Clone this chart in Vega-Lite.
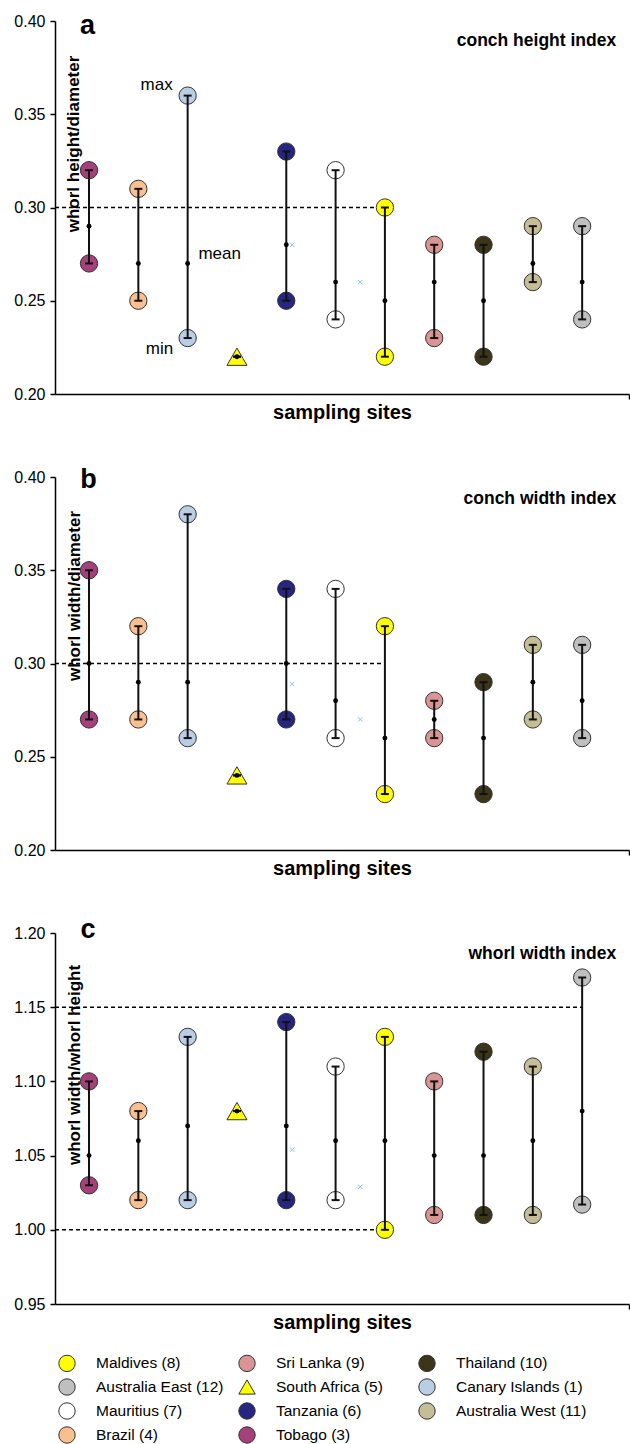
{
  "$schema": "https://vega.github.io/schema/vega-lite/v6.json",
  "padding": {"left": 13, "top": 12, "right": 0, "bottom": 0},
  "spacing": 83,
  "bounds": "flush",
  "config": {
    "view": {"stroke": null},
    "font": "Liberation Sans",
    "axis": {"domainColor": "black", "domainWidth": 1.5, "tickColor": "black", "tickWidth": 1.5, "tickSize": 5, "labelFont": "Liberation Sans", "labelFontSize": 16, "labelColor": "black", "labelPadding": 5, "grid": false, "titleFont": "Liberation Sans", "titleFontWeight": "bold", "titleColor": "black"},
    "legend": {"padding": 0}
  },
  "datasets": {
    "sites": [
      {"p": "a", "site": "Tobago (3)", "idx": 0, "min": 0.27, "mean": 0.29, "max": 0.32},
      {"p": "a", "site": "Brazil (4)", "idx": 1, "min": 0.25, "mean": 0.27, "max": 0.31},
      {"p": "a", "site": "Canary Islands (1)", "idx": 2, "min": 0.23, "mean": 0.27, "max": 0.36},
      {"p": "a", "site": "South Africa (5)", "idx": 3, "min": 0.22, "mean": 0.22, "max": 0.22},
      {"p": "a", "site": "Tanzania (6)", "idx": 4, "min": 0.25, "mean": 0.28, "max": 0.33},
      {"p": "a", "site": "Mauritius (7)", "idx": 5, "min": 0.24, "mean": 0.26, "max": 0.32},
      {"p": "a", "site": "Maldives (8)", "idx": 6, "min": 0.22, "mean": 0.25, "max": 0.30},
      {"p": "a", "site": "Sri Lanka (9)", "idx": 7, "min": 0.23, "mean": 0.26, "max": 0.28},
      {"p": "a", "site": "Thailand (10)", "idx": 8, "min": 0.22, "mean": 0.25, "max": 0.28},
      {"p": "a", "site": "Australia West (11)", "idx": 9, "min": 0.26, "mean": 0.27, "max": 0.29},
      {"p": "a", "site": "Australia East (12)", "idx": 10, "min": 0.24, "mean": 0.26, "max": 0.29},
      {"p": "b", "site": "Tobago (3)", "idx": 0, "min": 0.27, "mean": 0.30, "max": 0.35},
      {"p": "b", "site": "Brazil (4)", "idx": 1, "min": 0.27, "mean": 0.29, "max": 0.32},
      {"p": "b", "site": "Canary Islands (1)", "idx": 2, "min": 0.26, "mean": 0.29, "max": 0.38},
      {"p": "b", "site": "South Africa (5)", "idx": 3, "min": 0.24, "mean": 0.24, "max": 0.24},
      {"p": "b", "site": "Tanzania (6)", "idx": 4, "min": 0.27, "mean": 0.30, "max": 0.34},
      {"p": "b", "site": "Mauritius (7)", "idx": 5, "min": 0.26, "mean": 0.28, "max": 0.34},
      {"p": "b", "site": "Maldives (8)", "idx": 6, "min": 0.23, "mean": 0.26, "max": 0.32},
      {"p": "b", "site": "Sri Lanka (9)", "idx": 7, "min": 0.26, "mean": 0.27, "max": 0.28},
      {"p": "b", "site": "Thailand (10)", "idx": 8, "min": 0.23, "mean": 0.26, "max": 0.29},
      {"p": "b", "site": "Australia West (11)", "idx": 9, "min": 0.27, "mean": 0.29, "max": 0.31},
      {"p": "b", "site": "Australia East (12)", "idx": 10, "min": 0.26, "mean": 0.28, "max": 0.31},
      {"p": "c", "site": "Tobago (3)", "idx": 0, "min": 1.03, "mean": 1.05, "max": 1.10},
      {"p": "c", "site": "Brazil (4)", "idx": 1, "min": 1.02, "mean": 1.06, "max": 1.08},
      {"p": "c", "site": "Canary Islands (1)", "idx": 2, "min": 1.02, "mean": 1.07, "max": 1.13},
      {"p": "c", "site": "South Africa (5)", "idx": 3, "min": 1.08, "mean": 1.08, "max": 1.08},
      {"p": "c", "site": "Tanzania (6)", "idx": 4, "min": 1.02, "mean": 1.07, "max": 1.14},
      {"p": "c", "site": "Mauritius (7)", "idx": 5, "min": 1.02, "mean": 1.06, "max": 1.11},
      {"p": "c", "site": "Maldives (8)", "idx": 6, "min": 1.00, "mean": 1.06, "max": 1.13},
      {"p": "c", "site": "Sri Lanka (9)", "idx": 7, "min": 1.01, "mean": 1.05, "max": 1.10},
      {"p": "c", "site": "Thailand (10)", "idx": 8, "min": 1.01, "mean": 1.05, "max": 1.12},
      {"p": "c", "site": "Australia West (11)", "idx": 9, "min": 1.01, "mean": 1.06, "max": 1.11},
      {"p": "c", "site": "Australia East (12)", "idx": 10, "min": 1.017, "mean": 1.08, "max": 1.17}
    ],
    "refs": [
      {"p": "a", "y": 0.30, "from": -0.69, "to": 6},
      {"p": "b", "y": 0.30, "from": -0.69, "to": 6},
      {"p": "c", "y": 1.15, "from": -0.69, "to": 10},
      {"p": "c", "y": 1.00, "from": -0.69, "to": 6}
    ],
    "xmarks": [
      {"p": "a", "x": 4.12, "y": 0.28},
      {"p": "a", "x": 5.5, "y": 0.26},
      {"p": "b", "x": 4.12, "y": 0.289},
      {"p": "b", "x": 5.5, "y": 0.27},
      {"p": "c", "x": 4.12, "y": 1.054},
      {"p": "c", "x": 5.5, "y": 1.029}
    ],
    "letters": [
      {"p": "a", "x": -0.03, "y": 0.393, "label": "a"},
      {"p": "b", "x": -0.01, "y": 0.394, "label": "b"},
      {"p": "c", "x": -0.02, "y": 1.1966, "label": "c"}
    ],
    "heads": [
      {"p": "a", "x": 10.69, "y": 0.3866, "label": "conch height index"},
      {"p": "b", "x": 10.69, "y": 0.3855, "label": "conch width index"},
      {"p": "c", "x": 10.69, "y": 1.1826, "label": "whorl width index"}
    ],
    "annots": [
      {"x": 1.37, "y": 0.363, "label": "max"},
      {"x": 2.65, "y": 0.2724, "label": "mean"},
      {"x": 1.43, "y": 0.2214, "label": "min"}
    ]
  },
  "vconcat": [
    {
      "width": 574, "height": 373,
      "layer": [
        {"data": {"name": "refs"}, "transform": [{"filter": "datum.p == 'a'"}],
         "mark": {"type": "rule", "strokeDash": [4, 3], "strokeWidth": 1.4, "color": "black"},
         "encoding": {
           "x": {"field": "from", "type": "quantitative", "scale": {"domain": [-0.69, 10.95], "nice": false, "zero": false}, "axis": {"title": "sampling sites", "titleFontSize": 20, "labels": false, "values": [10.95], "tickSize": 5, "titlePadding": 3}},
           "x2": {"field": "to"},
           "y": {"field": "y", "type": "quantitative", "scale": {"domain": [0.2, 0.4], "nice": false, "zero": false}, "axis": {"values": [0.2, 0.25, 0.3, 0.35, 0.4], "format": ".2f", "title": "whorl height/diameter", "titleX": 18.5, "titleY": 122.5, "titleAngle": 270, "titleAlign": "center", "titleBaseline": "middle", "titleFontSize": 17}}}},
        {"data": {"name": "sites"}, "transform": [{"filter": "datum.p == 'a' && datum.site != 'South Africa (5)'"}, {"fold": ["min", "max"], "as": ["stat", "val"]}],
         "mark": {"type": "point", "filled": true, "size": 300, "stroke": "#333333", "strokeWidth": 1, "opacity": 1},
         "encoding": {
           "x": {"field": "idx", "type": "quantitative", "scale": {"domain": [-0.69, 10.95], "nice": false, "zero": false}},
           "y": {"field": "val", "type": "quantitative", "scale": {"domain": [0.2, 0.4], "nice": false, "zero": false}},
           "color": {"field": "site", "type": "nominal",
             "scale": {"domain": ["Maldives (8)", "Australia East (12)", "Mauritius (7)", "Brazil (4)", "Sri Lanka (9)", "South Africa (5)", "Tanzania (6)", "Tobago (3)", "Thailand (10)", "Canary Islands (1)", "Australia West (11)"],
                       "range": ["#FFFF00", "#BFBFBF", "#FFFFFF", "#FABF8F", "#D99594", "#FFFF00", "#262580", "#A5407A", "#3B3519", "#B9CDE5", "#C4BD97"]},
             "legend": {"title": null, "orient": "none", "legendX": 3, "legendY": 1333, "columns": 3, "gridAlign": "all", "symbolSize": 270, "symbolStrokeColor": "#333333", "symbolStrokeWidth": 1, "labelFont": "Liberation Sans", "labelFontSize": 15.5, "labelColor": "black", "labelOffset": 20, "columnPadding": 9, "rowPadding": 2, "labelLimit": 300}},
           "shape": {"field": "site", "type": "nominal",
             "scale": {"domain": ["Maldives (8)", "Australia East (12)", "Mauritius (7)", "Brazil (4)", "Sri Lanka (9)", "South Africa (5)", "Tanzania (6)", "Tobago (3)", "Thailand (10)", "Canary Islands (1)", "Australia West (11)"],
                       "range": ["circle", "circle", "circle", "circle", "circle", "triangle-up", "circle", "circle", "circle", "circle", "circle"]},
             "legend": {"title": null, "orient": "none", "legendX": 3, "legendY": 1333, "columns": 3, "gridAlign": "all", "symbolSize": 270, "symbolStrokeColor": "#333333", "symbolStrokeWidth": 1, "labelFont": "Liberation Sans", "labelFontSize": 15.5, "labelColor": "black", "labelOffset": 20, "columnPadding": 9, "rowPadding": 2, "labelLimit": 300}}}},
        {"data": {"name": "sites"}, "transform": [{"filter": "datum.p == 'a' && datum.site == 'South Africa (5)'"}],
         "mark": {"type": "point", "filled": true, "size": 400, "stroke": "#333333", "strokeWidth": 1, "opacity": 1},
         "encoding": {
           "x": {"field": "idx", "type": "quantitative", "scale": {"domain": [-0.69, 10.95], "nice": false, "zero": false}},
           "y": {"field": "mean", "type": "quantitative", "scale": {"domain": [0.2, 0.4], "nice": false, "zero": false}},
           "color": {"field": "site", "type": "nominal"},
           "shape": {"field": "site", "type": "nominal"}}},
        {"data": {"name": "sites"}, "transform": [{"filter": "datum.p == 'a'"}],
         "mark": {"type": "rule", "strokeWidth": 2, "color": "#111111"},
         "encoding": {
           "x": {"field": "idx", "type": "quantitative", "scale": {"domain": [-0.69, 10.95], "nice": false, "zero": false}},
           "y": {"field": "min", "type": "quantitative", "scale": {"domain": [0.2, 0.4], "nice": false, "zero": false}},
           "y2": {"field": "max"}}},
        {"data": {"name": "sites"}, "transform": [{"filter": "datum.p == 'a'"}, {"fold": ["min", "max"], "as": ["stat", "val"]}],
         "mark": {"type": "tick", "orient": "horizontal", "size": 8, "thickness": 2, "color": "#111111", "opacity": 1},
         "encoding": {
           "x": {"field": "idx", "type": "quantitative", "scale": {"domain": [-0.69, 10.95], "nice": false, "zero": false}},
           "y": {"field": "val", "type": "quantitative", "scale": {"domain": [0.2, 0.4], "nice": false, "zero": false}}}},
        {"data": {"name": "sites"}, "transform": [{"filter": "datum.p == 'a'"}],
         "mark": {"type": "point", "filled": true, "size": 24, "color": "black", "opacity": 1},
         "encoding": {
           "x": {"field": "idx", "type": "quantitative", "scale": {"domain": [-0.69, 10.95], "nice": false, "zero": false}},
           "y": {"field": "mean", "type": "quantitative", "scale": {"domain": [0.2, 0.4], "nice": false, "zero": false}}}},
        {"data": {"name": "xmarks"}, "transform": [{"filter": "datum.p == 'a'"}],
         "mark": {"type": "point", "shape": "M-1,-1L1,1M1,-1L-1,1", "filled": false, "size": 20, "color": "#86C5DA", "strokeWidth": 1, "opacity": 1},
         "encoding": {
           "x": {"field": "x", "type": "quantitative", "scale": {"domain": [-0.69, 10.95], "nice": false, "zero": false}},
           "y": {"field": "y", "type": "quantitative", "scale": {"domain": [0.2, 0.4], "nice": false, "zero": false}}}},
        {"data": {"name": "letters"}, "transform": [{"filter": "datum.p == 'a'"}],
         "mark": {"type": "text", "font": "Liberation Sans", "fontSize": 27, "fontWeight": "bold", "align": "center", "baseline": "alphabetic", "color": "black"},
         "encoding": {
           "x": {"field": "x", "type": "quantitative", "scale": {"domain": [-0.69, 10.95], "nice": false, "zero": false}},
           "y": {"field": "y", "type": "quantitative", "scale": {"domain": [0.2, 0.4], "nice": false, "zero": false}},
           "text": {"field": "label"}}},
        {"data": {"name": "heads"}, "transform": [{"filter": "datum.p == 'a'"}],
         "mark": {"type": "text", "font": "Liberation Sans", "fontSize": 17.5, "fontWeight": "bold", "align": "right", "baseline": "alphabetic", "color": "black"},
         "encoding": {
           "x": {"field": "x", "type": "quantitative", "scale": {"domain": [-0.69, 10.95], "nice": false, "zero": false}},
           "y": {"field": "y", "type": "quantitative", "scale": {"domain": [0.2, 0.4], "nice": false, "zero": false}},
           "text": {"field": "label"}}},
        {"data": {"name": "annots"},
         "mark": {"type": "text", "font": "Liberation Sans", "fontSize": 17, "align": "center", "baseline": "alphabetic", "color": "black"},
         "encoding": {
           "x": {"field": "x", "type": "quantitative", "scale": {"domain": [-0.69, 10.95], "nice": false, "zero": false}},
           "y": {"field": "y", "type": "quantitative", "scale": {"domain": [0.2, 0.4], "nice": false, "zero": false}},
           "text": {"field": "label"}}}
      ]
    },
    {
      "width": 574, "height": 373,
      "layer": [
        {"data": {"name": "refs"}, "transform": [{"filter": "datum.p == 'b'"}],
         "mark": {"type": "rule", "strokeDash": [4, 3], "strokeWidth": 1.4, "color": "black"},
         "encoding": {
           "x": {"field": "from", "type": "quantitative", "scale": {"domain": [-0.69, 10.95], "nice": false, "zero": false}, "axis": {"title": "sampling sites", "titleFontSize": 20, "labels": false, "values": [10.95], "tickSize": 5, "titlePadding": 3}},
           "x2": {"field": "to"},
           "y": {"field": "y", "type": "quantitative", "scale": {"domain": [0.2, 0.4], "nice": false, "zero": false}, "axis": {"values": [0.2, 0.25, 0.3, 0.35, 0.4], "format": ".2f", "title": "whorl width/diameter", "titleX": 19.5, "titleY": 118.5, "titleAngle": 270, "titleAlign": "center", "titleBaseline": "middle", "titleFontSize": 17}}}},
        {"data": {"name": "sites"}, "transform": [{"filter": "datum.p == 'b' && datum.site != 'South Africa (5)'"}, {"fold": ["min", "max"], "as": ["stat", "val"]}],
         "mark": {"type": "point", "filled": true, "size": 300, "stroke": "#333333", "strokeWidth": 1, "opacity": 1},
         "encoding": {
           "x": {"field": "idx", "type": "quantitative", "scale": {"domain": [-0.69, 10.95], "nice": false, "zero": false}},
           "y": {"field": "val", "type": "quantitative", "scale": {"domain": [0.2, 0.4], "nice": false, "zero": false}},
           "color": {"field": "site", "type": "nominal", "legend": null},
           "shape": {"field": "site", "type": "nominal", "legend": null}}},
        {"data": {"name": "sites"}, "transform": [{"filter": "datum.p == 'b' && datum.site == 'South Africa (5)'"}],
         "mark": {"type": "point", "filled": true, "size": 400, "stroke": "#333333", "strokeWidth": 1, "opacity": 1},
         "encoding": {
           "x": {"field": "idx", "type": "quantitative", "scale": {"domain": [-0.69, 10.95], "nice": false, "zero": false}},
           "y": {"field": "mean", "type": "quantitative", "scale": {"domain": [0.2, 0.4], "nice": false, "zero": false}},
           "color": {"field": "site", "type": "nominal", "legend": null},
           "shape": {"field": "site", "type": "nominal", "legend": null}}},
        {"data": {"name": "sites"}, "transform": [{"filter": "datum.p == 'b'"}],
         "mark": {"type": "rule", "strokeWidth": 2, "color": "#111111"},
         "encoding": {
           "x": {"field": "idx", "type": "quantitative", "scale": {"domain": [-0.69, 10.95], "nice": false, "zero": false}},
           "y": {"field": "min", "type": "quantitative", "scale": {"domain": [0.2, 0.4], "nice": false, "zero": false}},
           "y2": {"field": "max"}}},
        {"data": {"name": "sites"}, "transform": [{"filter": "datum.p == 'b'"}, {"fold": ["min", "max"], "as": ["stat", "val"]}],
         "mark": {"type": "tick", "orient": "horizontal", "size": 8, "thickness": 2, "color": "#111111", "opacity": 1},
         "encoding": {
           "x": {"field": "idx", "type": "quantitative", "scale": {"domain": [-0.69, 10.95], "nice": false, "zero": false}},
           "y": {"field": "val", "type": "quantitative", "scale": {"domain": [0.2, 0.4], "nice": false, "zero": false}}}},
        {"data": {"name": "sites"}, "transform": [{"filter": "datum.p == 'b'"}],
         "mark": {"type": "point", "filled": true, "size": 24, "color": "black", "opacity": 1},
         "encoding": {
           "x": {"field": "idx", "type": "quantitative", "scale": {"domain": [-0.69, 10.95], "nice": false, "zero": false}},
           "y": {"field": "mean", "type": "quantitative", "scale": {"domain": [0.2, 0.4], "nice": false, "zero": false}}}},
        {"data": {"name": "xmarks"}, "transform": [{"filter": "datum.p == 'b'"}],
         "mark": {"type": "point", "shape": "M-1,-1L1,1M1,-1L-1,1", "filled": false, "size": 20, "color": "#86C5DA", "strokeWidth": 1, "opacity": 1},
         "encoding": {
           "x": {"field": "x", "type": "quantitative", "scale": {"domain": [-0.69, 10.95], "nice": false, "zero": false}},
           "y": {"field": "y", "type": "quantitative", "scale": {"domain": [0.2, 0.4], "nice": false, "zero": false}}}},
        {"data": {"name": "letters"}, "transform": [{"filter": "datum.p == 'b'"}],
         "mark": {"type": "text", "font": "Liberation Sans", "fontSize": 27, "fontWeight": "bold", "align": "center", "baseline": "alphabetic", "color": "black"},
         "encoding": {
           "x": {"field": "x", "type": "quantitative", "scale": {"domain": [-0.69, 10.95], "nice": false, "zero": false}},
           "y": {"field": "y", "type": "quantitative", "scale": {"domain": [0.2, 0.4], "nice": false, "zero": false}},
           "text": {"field": "label"}}},
        {"data": {"name": "heads"}, "transform": [{"filter": "datum.p == 'b'"}],
         "mark": {"type": "text", "font": "Liberation Sans", "fontSize": 17.5, "fontWeight": "bold", "align": "right", "baseline": "alphabetic", "color": "black"},
         "encoding": {
           "x": {"field": "x", "type": "quantitative", "scale": {"domain": [-0.69, 10.95], "nice": false, "zero": false}},
           "y": {"field": "y", "type": "quantitative", "scale": {"domain": [0.2, 0.4], "nice": false, "zero": false}},
           "text": {"field": "label"}}}
      ]
    },
    {
      "width": 574, "height": 371,
      "layer": [
        {"data": {"name": "refs"}, "transform": [{"filter": "datum.p == 'c'"}],
         "mark": {"type": "rule", "strokeDash": [4, 3], "strokeWidth": 1.4, "color": "black"},
         "encoding": {
           "x": {"field": "from", "type": "quantitative", "scale": {"domain": [-0.69, 10.95], "nice": false, "zero": false}, "axis": {"title": "sampling sites", "titleFontSize": 20, "labels": false, "values": [10.95], "tickSize": 5, "titlePadding": 3}},
           "x2": {"field": "to"},
           "y": {"field": "y", "type": "quantitative", "scale": {"domain": [0.95, 1.2], "nice": false, "zero": false}, "axis": {"values": [0.95, 1.0, 1.05, 1.1, 1.15, 1.2], "format": ".2f", "title": "whorl width/whorl height", "titleX": 19.5, "titleY": 131.5, "titleAngle": 270, "titleAlign": "center", "titleBaseline": "middle", "titleFontSize": 17}}}},
        {"data": {"name": "sites"}, "transform": [{"filter": "datum.p == 'c' && datum.site != 'South Africa (5)'"}, {"fold": ["min", "max"], "as": ["stat", "val"]}],
         "mark": {"type": "point", "filled": true, "size": 300, "stroke": "#333333", "strokeWidth": 1, "opacity": 1},
         "encoding": {
           "x": {"field": "idx", "type": "quantitative", "scale": {"domain": [-0.69, 10.95], "nice": false, "zero": false}},
           "y": {"field": "val", "type": "quantitative", "scale": {"domain": [0.95, 1.2], "nice": false, "zero": false}},
           "color": {"field": "site", "type": "nominal", "legend": null},
           "shape": {"field": "site", "type": "nominal", "legend": null}}},
        {"data": {"name": "sites"}, "transform": [{"filter": "datum.p == 'c' && datum.site == 'South Africa (5)'"}],
         "mark": {"type": "point", "filled": true, "size": 400, "stroke": "#333333", "strokeWidth": 1, "opacity": 1},
         "encoding": {
           "x": {"field": "idx", "type": "quantitative", "scale": {"domain": [-0.69, 10.95], "nice": false, "zero": false}},
           "y": {"field": "mean", "type": "quantitative", "scale": {"domain": [0.95, 1.2], "nice": false, "zero": false}},
           "color": {"field": "site", "type": "nominal", "legend": null},
           "shape": {"field": "site", "type": "nominal", "legend": null}}},
        {"data": {"name": "sites"}, "transform": [{"filter": "datum.p == 'c'"}],
         "mark": {"type": "rule", "strokeWidth": 2, "color": "#111111"},
         "encoding": {
           "x": {"field": "idx", "type": "quantitative", "scale": {"domain": [-0.69, 10.95], "nice": false, "zero": false}},
           "y": {"field": "min", "type": "quantitative", "scale": {"domain": [0.95, 1.2], "nice": false, "zero": false}},
           "y2": {"field": "max"}}},
        {"data": {"name": "sites"}, "transform": [{"filter": "datum.p == 'c'"}, {"fold": ["min", "max"], "as": ["stat", "val"]}],
         "mark": {"type": "tick", "orient": "horizontal", "size": 8, "thickness": 2, "color": "#111111", "opacity": 1},
         "encoding": {
           "x": {"field": "idx", "type": "quantitative", "scale": {"domain": [-0.69, 10.95], "nice": false, "zero": false}},
           "y": {"field": "val", "type": "quantitative", "scale": {"domain": [0.95, 1.2], "nice": false, "zero": false}}}},
        {"data": {"name": "sites"}, "transform": [{"filter": "datum.p == 'c'"}],
         "mark": {"type": "point", "filled": true, "size": 24, "color": "black", "opacity": 1},
         "encoding": {
           "x": {"field": "idx", "type": "quantitative", "scale": {"domain": [-0.69, 10.95], "nice": false, "zero": false}},
           "y": {"field": "mean", "type": "quantitative", "scale": {"domain": [0.95, 1.2], "nice": false, "zero": false}}}},
        {"data": {"name": "xmarks"}, "transform": [{"filter": "datum.p == 'c'"}],
         "mark": {"type": "point", "shape": "M-1,-1L1,1M1,-1L-1,1", "filled": false, "size": 20, "color": "#86C5DA", "strokeWidth": 1, "opacity": 1},
         "encoding": {
           "x": {"field": "x", "type": "quantitative", "scale": {"domain": [-0.69, 10.95], "nice": false, "zero": false}},
           "y": {"field": "y", "type": "quantitative", "scale": {"domain": [0.95, 1.2], "nice": false, "zero": false}}}},
        {"data": {"name": "letters"}, "transform": [{"filter": "datum.p == 'c'"}],
         "mark": {"type": "text", "font": "Liberation Sans", "fontSize": 27, "fontWeight": "bold", "align": "center", "baseline": "alphabetic", "color": "black"},
         "encoding": {
           "x": {"field": "x", "type": "quantitative", "scale": {"domain": [-0.69, 10.95], "nice": false, "zero": false}},
           "y": {"field": "y", "type": "quantitative", "scale": {"domain": [0.95, 1.2], "nice": false, "zero": false}},
           "text": {"field": "label"}}},
        {"data": {"name": "heads"}, "transform": [{"filter": "datum.p == 'c'"}],
         "mark": {"type": "text", "font": "Liberation Sans", "fontSize": 17.5, "fontWeight": "bold", "align": "right", "baseline": "alphabetic", "color": "black"},
         "encoding": {
           "x": {"field": "x", "type": "quantitative", "scale": {"domain": [-0.69, 10.95], "nice": false, "zero": false}},
           "y": {"field": "y", "type": "quantitative", "scale": {"domain": [0.95, 1.2], "nice": false, "zero": false}},
           "text": {"field": "label"}}}
      ]
    }
  ]
}
